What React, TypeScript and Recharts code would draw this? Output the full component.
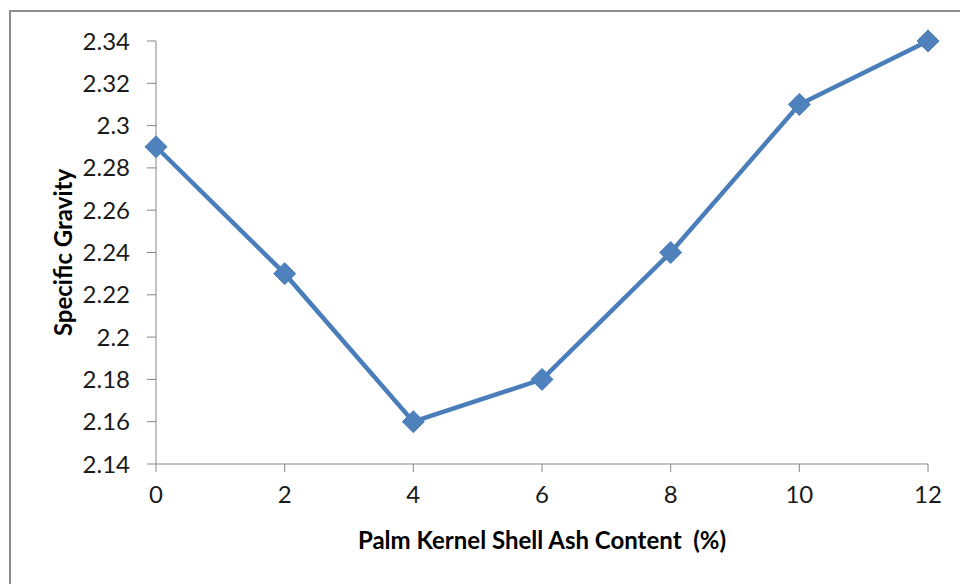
import React from "react";
import { LineChart, Line, XAxis, YAxis } from "recharts";

const ashContent = [0, 2, 4, 6, 8, 10, 12];
const specificGravity = [2.29, 2.23, 2.16, 2.18, 2.24, 2.31, 2.34];
const xTicks = [0, 2, 4, 6, 8, 10, 12];
const yTicks = [2.14, 2.16, 2.18, 2.2, 2.22, 2.24, 2.26, 2.28, 2.3, 2.32, 2.34];

const data = ashContent.map((x, i) => ({ x, y: specificGravity[i] }));

const font = "Lato, 'Open Sans', sans-serif";
const axisColor = "#868686";

const Diamond = (props: any) => {
  const { cx, cy } = props;
  if (cx == null || cy == null) return null;
  const r = 11;
  return (
    <polygon
      points={`${cx},${cy - r} ${cx + r},${cy} ${cx},${cy + r} ${cx - r},${cy}`}
      fill="#4F81BD"
      stroke="#4A7EBB"
      strokeWidth={1}
    />
  );
};

export default function App() {
  return (
    <div
      style={{
        position: "absolute",
        left: 0,
        top: 0,
        width: 960,
        height: 584,
        background: "#fff",
        overflow: "hidden",
      }}
    >
      <div
        style={{
          position: "absolute",
          left: 9,
          top: 10,
          width: 980,
          height: 600,
          border: "2px solid #8c8c8c",
        }}
      />
      <div style={{ position: "absolute", left: 0, top: 0 }}>
        <LineChart
          width={960}
          height={584}
          data={data}
          margin={{ top: 41, right: 32, bottom: 90, left: 96 }}
        >
          <XAxis
            dataKey="x"
            type="number"
            domain={[0, 12]}
            ticks={xTicks}
            height={30}
            stroke={axisColor}
            tickSize={8}
            tickMargin={14}
            tick={{ fill: "#1a1a1a", fontSize: 24, fontFamily: font }}
            label={{
              content: (p: any) => {
                const vb = p.viewBox;
                return (
                  <text
                    x={vb.x + vb.width / 2}
                    y={vb.y + 85}
                    textAnchor="middle"
                    fontFamily={font}
                    fontWeight="bold"
                    fontSize={24}
                    fill="#000"
                    style={{ whiteSpace: "pre" }}
                  >
                    Palm Kernel Shell Ash Content  (%)
                  </text>
                );
              },
            }}
          />
          <YAxis
            dataKey="y"
            type="number"
            domain={[2.14, 2.34]}
            ticks={yTicks}
            width={60}
            stroke={axisColor}
            tickSize={9}
            tickMargin={17}
            tick={{ fill: "#1a1a1a", fontSize: 24, fontFamily: font }}
            label={{
              content: (p: any) => {
                const vb = p.viewBox;
                const cx = vb.x - 34;
                const cy = vb.y + vb.height / 2;
                return (
                  <text
                    x={cx}
                    y={cy}
                    transform={`rotate(-90 ${cx} ${cy})`}
                    textAnchor="middle"
                    dominantBaseline="central"
                    fontFamily={font}
                    fontWeight="bold"
                    fontSize={24}
                    fill="#000"
                  >
                    Specific Gravity
                  </text>
                );
              },
            }}
          />
          <Line
            type="linear"
            dataKey="y"
            stroke="#4A7EBB"
            strokeWidth={4.5}
            dot={<Diamond />}
            activeDot={false}
            isAnimationActive={false}
          />
        </LineChart>
      </div>
    </div>
  );
}
